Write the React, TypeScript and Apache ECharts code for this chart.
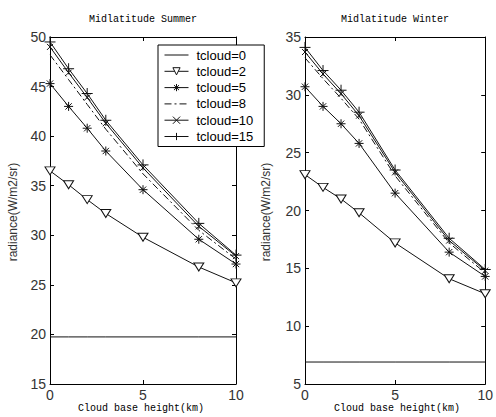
import React, { useEffect, useRef } from "react";
import * as echarts from "echarts";

const heights = [0, 1, 2, 3, 5, 8, 10];
const seriesNames = ["tcloud=0", "tcloud=2", "tcloud=5", "tcloud=8", "tcloud=10", "tcloud=15"];

const summer0 = [19.75, 19.75, 19.75, 19.75, 19.75, 19.75, 19.75];
const summer2 = [36.5, 35.1, 33.6, 32.2, 29.8, 26.8, 25.2];
const summer5 = [45.3, 43.0, 40.8, 38.5, 34.6, 29.6, 27.1];
const summer8 = [48.2, 45.7, 43.2, 40.7, 36.2, 30.5, 27.6];
const summer10 = [49.0, 46.4, 43.9, 41.3, 36.8, 30.9, 27.9];
const summer15 = [49.5, 46.8, 44.3, 41.6, 37.1, 31.2, 28.0];

const winter0 = [6.9, 6.9, 6.9, 6.9, 6.9, 6.9, 6.9];
const winter2 = [23.1, 22.0, 21.0, 19.8, 17.2, 14.1, 12.8];
const winter5 = [30.7, 29.0, 27.5, 25.8, 21.5, 16.4, 14.3];
const winter8 = [33.2, 31.4, 29.7, 27.9, 23.0, 17.2, 14.6];
const winter10 = [33.7, 31.8, 30.1, 28.2, 23.3, 17.4, 14.8];
const winter15 = [34.1, 32.1, 30.4, 28.5, 23.5, 17.6, 14.9];

const titles = ["Midlatitude Summer", "Midlatitude Winter"];
const xName = "Cloud base height(km)";
const yName = "radiance(W/m2/sr)";

const LINE = "#111";
const sym = {
  tri: "path://M0,0L10,0L5,9Z",
  star: "path://M5,0L5,10M0,5L10,5M1.5,1.5L8.5,8.5M8.5,1.5L1.5,8.5",
  cross: "path://M0,0L10,10M10,0L0,10",
  plus: "path://M5,0L5,10M0,5L10,5",
};

function makeSeries(vals: number[][], axis: number) {
  const styles: any[] = [
    { symbol: "none" },
    { symbol: sym.tri, symbolSize: [10, 8], itemStyle: { color: "#fff", borderColor: LINE, borderWidth: 1 } },
    { symbol: sym.star, symbolSize: 9, itemStyle: { color: LINE, borderColor: LINE, borderWidth: 1 } },
    { symbol: "none", lineStyle: { type: [7, 3, 2, 3] } },
    { symbol: sym.cross, symbolSize: 6, itemStyle: { color: LINE, borderColor: LINE, borderWidth: 1 } },
    { symbol: sym.plus, symbolSize: 11, itemStyle: { color: LINE, borderColor: LINE, borderWidth: 1 } },
  ];
  return vals.map((v, i) => ({
    type: "line",
    name: seriesNames[i],
    xAxisIndex: axis,
    yAxisIndex: axis,
    data: heights.map((h, j) => [h, v[j]]),
    showSymbol: styles[i].symbol !== "none",
    symbol: styles[i].symbol,
    symbolSize: styles[i].symbolSize,
    itemStyle: styles[i].itemStyle || { color: LINE },
    lineStyle: { color: LINE, width: 1, ...(styles[i].lineStyle || {}) },
    emphasis: { disabled: true },
    z: 3,
  }));
}

const tickLabel = { color: "#333", fontSize: 14, fontFamily: "Liberation Sans", margin: 4 };
const axisLine = { show: true, onZero: false, lineStyle: { color: "#000", width: 1 } };
const axisTick = { show: true, inside: true, length: 4, lineStyle: { color: "#000" } };

function xAxes(grid: number) {
  const base = { type: "value", gridIndex: grid, min: 0, max: 10, interval: 5, splitLine: { show: false }, axisLine, axisTick };
  return [
    { ...base, position: "bottom", axisLabel: tickLabel },
    { ...base, position: "top", axisLabel: { show: false } },
  ];
}
function yAxes(grid: number, min: number, max: number) {
  const base = { type: "value", gridIndex: grid, min, max, interval: 5, splitLine: { show: false }, axisLine, axisTick };
  return [
    { ...base, position: "left", axisLabel: tickLabel },
    { ...base, position: "right", axisLabel: { show: false } },
  ];
}

export default function App() {
  const ref = useRef<HTMLDivElement>(null);
  useEffect(() => {
    if (!ref.current) return;
    const chart = echarts.init(ref.current, undefined, { renderer: "svg" });
    const monoFont = '10px "Liberation Mono", "DejaVu Sans Mono", monospace';
    const yFont = '12px "Liberation Sans", Arial, sans-serif';
    const noSymbol = new Set(["tcloud=0", "tcloud=8"]);
    chart.setOption({
      animation: false,
      backgroundColor: "#fff",
      grid: [
        { left: 50, top: 37, width: 186, height: 347 },
        { left: 305, top: 37, width: 186, height: 347 },
      ],
      xAxis: [...xAxes(0), ...xAxes(1)],
      yAxis: [...yAxes(0, 15, 50), ...yAxes(1, 5, 35)],
      legend: {
        data: seriesNames.map((n) => (noSymbol.has(n) ? { name: n, itemStyle: { opacity: 0 } } : { name: n })),
        orient: "vertical",
        left: 158,
        top: 45,
        itemWidth: 24,
        itemHeight: 9,
        itemGap: 2.3,
        padding: [3, 11, 3, 6],
        borderColor: "#000",
        borderWidth: 1,
        backgroundColor: "#fff",
        selectedMode: false,
        itemStyle: { borderWidth: 1 },
        lineStyle: { width: 1 },
        textStyle: { fontSize: 13, fontFamily: "Liberation Sans", color: "#000", padding: [0, 0, 0, 3], lineHeight: 14 },
        z: 10,
      },
      graphic: [
        { type: "text", x: 143, y: 19, style: { text: titles[0], font: monoFont, fill: "#000", align: "center", verticalAlign: "middle" } },
        { type: "text", x: 395, y: 19, style: { text: titles[1], font: monoFont, fill: "#000", align: "center", verticalAlign: "middle" } },
        { type: "text", x: 141, y: 408, style: { text: xName, font: monoFont, fill: "#000", align: "center", verticalAlign: "middle" } },
        { type: "text", x: 397, y: 408, style: { text: xName, font: monoFont, fill: "#000", align: "center", verticalAlign: "middle" } },
        { type: "text", x: 13, y: 212, rotation: Math.PI / 2, style: { text: yName, font: yFont, fill: "#333", align: "center", verticalAlign: "middle" } },
        { type: "text", x: 266, y: 212, rotation: Math.PI / 2, style: { text: yName, font: yFont, fill: "#333", align: "center", verticalAlign: "middle" } },
      ],
      series: [
        ...makeSeries([summer0, summer2, summer5, summer8, summer10, summer15], 0),
        ...makeSeries([winter0, winter2, winter5, winter8, winter10, winter15], 2),
      ],
    });
    return () => chart.dispose();
  }, []);
  return <div ref={ref} style={{ position: "absolute", left: 0, top: 0, width: 496, height: 417 }} />;
}
